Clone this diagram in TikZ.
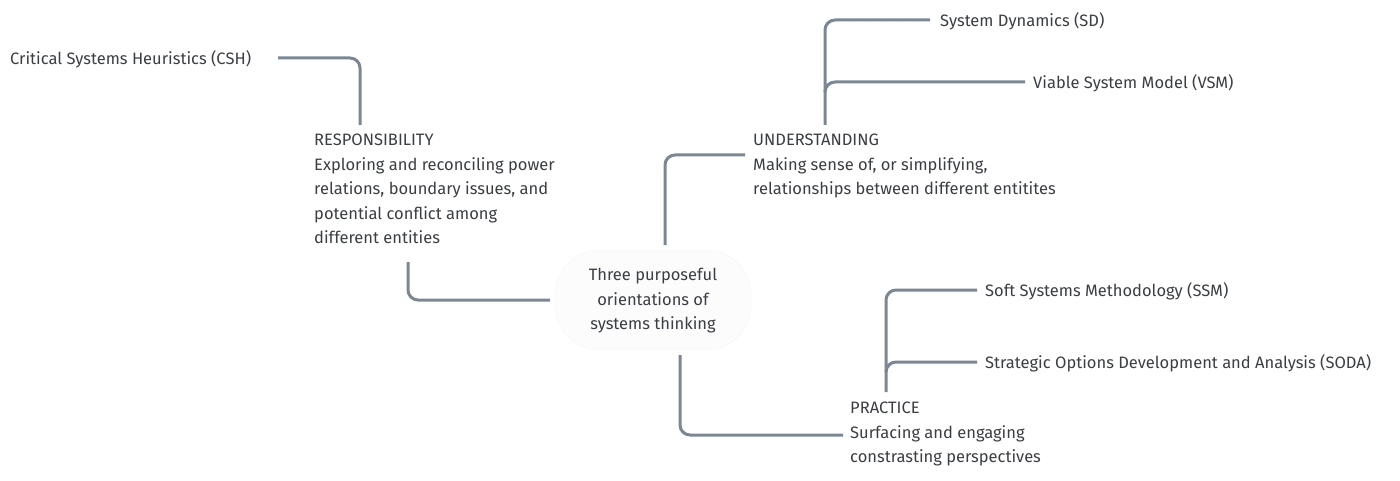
\documentclass[tikz,border=0pt]{standalone}
\usepackage{fontspec}
\setmainfont{Fira Sans}
\begin{document}
\begin{tikzpicture}[x=1pt,y=-1pt,
  conn/.style={draw=lineC,line width=3pt,rounded corners=10pt},
  txt/.style={anchor=west,inner sep=0pt,text=textC,font=\fontsize{16.5}{24.5}\selectfont,align=left},
]
\definecolor{lineC}{HTML}{7A8794}
\definecolor{textC}{HTML}{3A3F44}
\useasboundingbox (0,0) rectangle (1400,481);
\fill[white] (0,0) rectangle (1400,481);
\node[draw=gray!8,fill=gray!2,rounded corners=45pt,minimum width=196pt,minimum height=100pt] (cbg) at (653,300) {};
\node[txt,anchor=center,align=center] (c) at (653,301) {Three purposeful\\orientations of\\systems thinking};
\node[txt,anchor=north west] (resp) at (314,134) {RESPONSIBILITY\\Exploring and reconciling power\\relations, boundary issues, and\\potential conflict among\\different entities};
\node[txt,anchor=north west] (und) at (753,134) {UNDERSTANDING\\Making sense of, or simplifying,\\relationships between different entitites};
\node[txt,anchor=north west] (prac) at (850,402) {PRACTICE\\Surfacing and engaging\\constrasting perspectives};
\node[txt] (csh) at (10,59) {Critical Systems Heuristics (CSH)};
\node[txt] (sd) at (940,21) {System Dynamics (SD)};
\node[txt] (vsm) at (1033,83) {Viable System Model (VSM)};
\node[txt] (ssm) at (985,291) {Soft Systems Methodology (SSM)};
\node[txt] (soda) at (985,363) {Strategic Options Development and Analysis (SODA)};
\coordinate (j0) at (278,58);
\coordinate (j1) at (360,125);
\draw[conn] (j0) -- (360,58) -- (j1);
\draw[conn] (408,262) -- (408,300) -- (550,300);
\draw[conn] (665,245) -- (665,155) -- (745,155);
\draw[conn] (680,355) -- (680,435) -- (843,435);
\draw[conn] (825,125) -- (825,20) -- (930,20);
\draw[conn] (825,90) -- (825,82) -- (1025,82);
\draw[conn] (886,392) -- (886,290) -- (977,290);
\draw[conn] (886,370) -- (886,362) -- (977,362);
\end{tikzpicture}
\end{document}
